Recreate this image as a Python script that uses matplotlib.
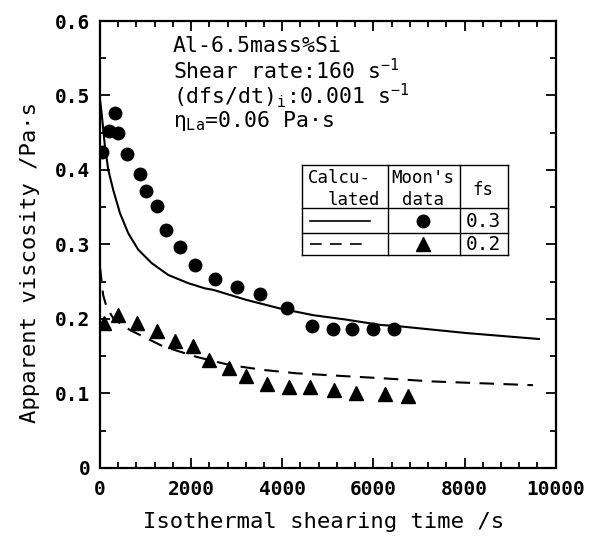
import matplotlib
matplotlib.use("Agg")
import matplotlib.pyplot as plt
from matplotlib.ticker import MultipleLocator
from matplotlib.lines import Line2D

plt.rcParams['font.family'] = ['DejaVu Sans Mono']
plt.rcParams['mathtext.fontset'] = 'custom'
plt.rcParams['mathtext.rm'] = 'DejaVu Sans Mono'
plt.rcParams['mathtext.it'] = 'DejaVu Sans Mono'

# Moon's data, fs = 0.3 (circles)
t_moon_03 = [51, 197, 329, 402, 588, 870, 1010, 1250, 1450, 1755, 2095, 2520,
             3010, 3510, 4110, 4660, 5120, 5520, 5980, 6455]
v_moon_03 = [0.424, 0.452, 0.477, 0.450, 0.421, 0.395, 0.372, 0.351, 0.320,
             0.297, 0.272, 0.253, 0.243, 0.234, 0.214, 0.190, 0.187, 0.186,
             0.186, 0.186]

# Moon's data, fs = 0.2 (triangles)
t_moon_02 = [88, 400, 805, 1257, 1657, 2046, 2390, 2836, 3195, 3655, 4150,
             4605, 5130, 5615, 6250, 6760]
v_moon_02 = [0.194, 0.205, 0.194, 0.184, 0.171, 0.163, 0.145, 0.134, 0.123,
             0.113, 0.109, 0.108, 0.105, 0.101, 0.099, 0.096]

# Calculated viscosity, fs = 0.3 (solid)
t_calc_03 = [0, 37, 110, 183, 292, 439, 621, 840, 1133, 1499, 1937, 2303,
             2485, 3215, 3950, 4680, 5410, 6140, 6580, 8040, 9635]
v_calc_03 = [0.495, 0.476, 0.431, 0.400, 0.373, 0.342, 0.315, 0.293, 0.275,
             0.259, 0.248, 0.241, 0.239, 0.2255, 0.214, 0.205, 0.199, 0.192,
             0.190, 0.181, 0.173]

# Calculated viscosity, fs = 0.2 (dashed)
t_calc_02 = [0, 70, 150, 300, 660, 1390, 2120, 2850, 3580, 4310, 5410, 6140,
             7310, 9500]
v_calc_02 = [0.27, 0.232, 0.215, 0.200, 0.185, 0.163, 0.149, 0.138, 0.1315,
             0.127, 0.123, 0.1205, 0.116, 0.111]

x_ticks = [0, 2000, 4000, 6000, 8000, 10000]
y_ticks = [0, 0.1, 0.2, 0.3, 0.4, 0.5, 0.6]
y_tick_labels = ['0', '0.1', '0.2', '0.3', '0.4', '0.5', '0.6']

fig = plt.figure(figsize=(5.95, 5.39), dpi=100)
ax = fig.add_axes([0.168, 0.132, 0.766, 0.829])

ax.plot(t_calc_03, v_calc_03, color='black', lw=1.5)
ax.plot(t_calc_02, v_calc_02, color='black', lw=1.5, dashes=(7, 4.5))
ax.plot(t_moon_03, v_moon_03, 'o', color='black', ms=9)
ax.plot(t_moon_02, v_moon_02, '^', color='black', ms=9.5)

ax.set_xlim(0, 10000)
ax.set_ylim(0, 0.6)
ax.set_xticks(x_ticks)
ax.set_yticks(y_ticks)
ax.set_yticklabels(y_tick_labels)
ax.xaxis.set_minor_locator(MultipleLocator(400))
ax.yaxis.set_minor_locator(MultipleLocator(0.05))
ax.tick_params(which='both', direction='in', top=True, right=True,
               width=1.3, labelsize=14)
ax.tick_params(which='major', length=7)
ax.tick_params(axis='x', which='major', pad=9)
ax.tick_params(axis='y', which='major', pad=7)
ax.tick_params(which='minor', length=4)
for lbl in ax.get_xticklabels() + ax.get_yticklabels():
    lbl.set_fontweight('bold')
for s in ax.spines.values():
    s.set_linewidth(1.6)

ax.set_xlabel('Isothermal shearing time /s', fontsize=16, va='center')
ax.xaxis.set_label_coords(0.49, -0.121)
ax.set_ylabel('Apparent viscosity /Pa·s', fontsize=16, va='center')
ax.yaxis.set_label_coords(-0.153, 0.46)

# Conditions block
cond_lines = ['Al-6.5mass%Si',
              r'Shear rate:160 s$^{-1}$',
              r'(dfs/dt)$_{\rm i}$:0.001 s$^{-1}$',
              r'$\eta_{\rm La}$=0.06 Pa·s']
cond_y = [0.944, 0.888, 0.832, 0.776]
for line, yy in zip(cond_lines, cond_y):
    ax.text(0.160, yy, line, transform=ax.transAxes, fontsize=15.5,
            va='center', ha='left')

# Key table
tr = ax.transAxes
x0, x1, x2, x3 = 0.443, 0.632, 0.789, 0.895
y_top, y_h, y_r1, y_bot = 0.678, 0.582, 0.526, 0.4765
kw = dict(color='black', lw=1.0, transform=tr, clip_on=False)
for xx in (x0, x1, x2, x3):
    ax.add_line(Line2D([xx, xx], [y_bot, y_top], **kw))
for yy in (y_top, y_h, y_r1, y_bot):
    ax.add_line(Line2D([x0, x3], [yy, yy], **kw))

tfs = 12.5
ax.text(0.456, 0.649, 'Calcu-', transform=tr, fontsize=tfs, va='center', ha='left')
ax.text(0.500, 0.600, 'lated', transform=tr, fontsize=tfs, va='center', ha='left')
ax.text(0.708, 0.649, "Moon's", transform=tr, fontsize=tfs, va='center', ha='center')
ax.text(0.708, 0.600, 'data', transform=tr, fontsize=tfs, va='center', ha='center')
ax.text(0.840, 0.622, 'fs', transform=tr, fontsize=tfs, va='center', ha='center')

row1, row2 = 0.552, 0.500
ax.add_line(Line2D([0.4605, 0.592], [row1, row1], color='black', lw=1.2,
                   transform=tr))
ax.add_line(Line2D([0.4605, 0.592], [row2, row2], color='black', lw=1.2,
                   dashes=(7, 5), transform=tr))
ax.plot([0.708], [row1], 'o', color='black', ms=9, transform=tr)
ax.plot([0.708], [row2], '^', color='black', ms=9.5, transform=tr)
ax.text(0.803, row1, '0.3', transform=tr, fontsize=14, va='center', ha='left')
ax.text(0.803, row2, '0.2', transform=tr, fontsize=14, va='center', ha='left')

fig.savefig('out.png', dpi=100)
